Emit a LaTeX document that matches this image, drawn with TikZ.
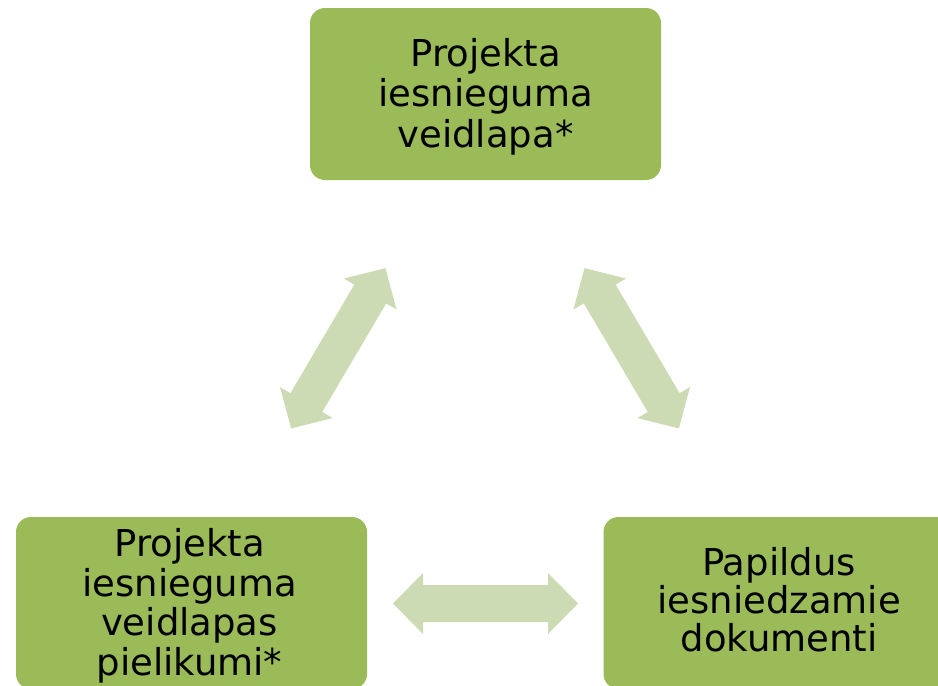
\documentclass[tikz,border=0pt]{standalone}
\usepackage{fontspec}
\setmainfont{DejaVu Sans}
\definecolor{boxgreen}{HTML}{9BBB59}
\definecolor{arrowgreen}{HTML}{CDDBB5}
\begin{document}
\begin{tikzpicture}[x=1pt,y=-1pt,
  stepbox/.style={fill=boxgreen,draw=none,rounded corners=15pt,minimum width=351pt,minimum height=172pt,inner sep=0pt},
  boxtext/.style={align=center,inner sep=0pt,text=black},
  dblarrow/.style={fill=arrowgreen,draw=none}]
\useasboundingbox (0,0) rectangle (938,686);
\clip (0,0) rectangle (938,686);
\node[stepbox] (top) at (485.5,94) {};
\node[stepbox] (left) at (191.5,603) {};
\node[stepbox] (right) at (779,603) {};
\node[boxtext,font=\fontsize{37}{40.35}\selectfont] (toptext) at (485.5,96.65) {Projekta\\iesnieguma\\veidlapa*};
\node[boxtext,font=\fontsize{37}{39.67}\selectfont] (lefttext) at (189.5,605.8) {Projekta\\iesnieguma\\veidlapas\\pielikumi*};
\node[boxtext,font=\fontsize{37}{37.85}\selectfont] (righttext) at (779,599.8) {Papildus\\iesniedzamie\\dokumenti};
\newcommand{\myarrow}{(-93,0) -- (-63,-30.5) -- (-63,-18.5) -- (63,-18.5) -- (63,-30.5) -- (93,0) -- (63,30.5) -- (63,18.5) -- (-63,18.5) -- (-63,30.5) -- cycle}
\begin{scope}[shift={(338.3,348.3)},rotate=59.5]
\fill[dblarrow] \myarrow;
\end{scope}
\begin{scope}[shift={(631.7,348.3)},rotate=-59.5]
\fill[dblarrow] \myarrow;
\end{scope}
\begin{scope}[shift={(485.5,603.5)}]
\fill[dblarrow] (-92.5,0) -- (-62.5,-30.5) -- (-62.5,-18.5) -- (62.5,-18.5) -- (62.5,-30.5) -- (92.5,0) -- (62.5,30.5) -- (62.5,18.5) -- (-62.5,18.5) -- (-62.5,30.5) -- cycle;
\end{scope}
\end{tikzpicture}
\end{document}
